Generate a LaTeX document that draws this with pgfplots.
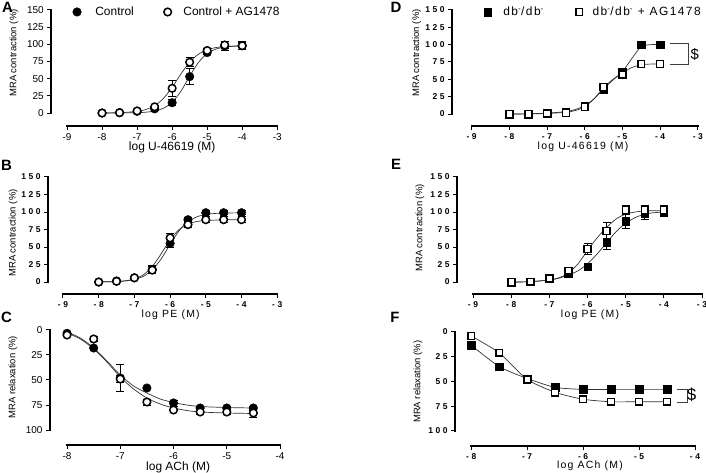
\documentclass[border=0pt]{standalone}
\usepackage{pgfplots}
\pgfplotsset{compat=1.18}
\usepackage{fontspec}
\setmainfont{Liberation Sans}
\newfontfamily\spA[LetterSpace=12]{Liberation Sans}
\newfontfamily\spB[LetterSpace=30]{Liberation Sans Bold}
\pgfplotsset{
  gp/.style={scale only axis, clip=false, anchor=south west,
    axis x line*=bottom, axis y line*=left,
    axis line style={-, line width=1bp, black},
    tick align=outside,
    xtick pos=bottom, ytick pos=left,
    major tick length=4bp, tick style={black, line width=1bp},
    xlabel style={font=\fontsize{12}{14}\selectfont, anchor=center},
    ylabel style={font=\fontsize{9.5}{11}\selectfont, anchor=center},
    tick label style={font=\fontsize{10}{12}\selectfont},
  },
  gpsp/.style={
    xlabel style={font=\spA\fontsize{10.5}{12}\selectfont},
    tick label style={font=\spB\fontsize{8.5}{10}\selectfont},
  },
  ebars/.style={error bars/y dir=both, error bars/y explicit,
    error bars/error bar style={line width=1bp, black},
    error bars/error mark options={rotate=90, mark size=4bp, line width=1bp, black}},
  fc/.style={only marks, mark=*, mark size=4.3bp, black, ebars},
  oc/.style={only marks, mark=*, mark size=3.8bp, mark options={fill=white, draw=black, line width=1.5bp}, ebars},
  fs/.style={only marks, mark=square*, mark size=3.8bp, black, ebars},
  os/.style={only marks, mark=square*, mark size=3.4bp, mark options={fill=white, draw=black, line width=1.5bp}, ebars},
  curve/.style={black!80, line width=0.7bp, smooth, no markers, forget plot},
  axrect/.style={fill=black, draw=none, no markers, forget plot},
}
\begin{document}
\begin{tikzpicture}
\path[use as bounding box] (0bp,0bp) rectangle (706bp,473bp);
% ---------------- A ----------------
\begin{axis}[gp, at={(51.25bp,347bp)}, width=226bp, height=116bp,
  xmin=-9.45, xmax=-3, ymin=-18.9, ymax=150,
  x axis line style={shorten <=15.75bp}, y axis line style={shorten <=13bp},
  xtick={-9,-8,-7,-6,-5,-4,-3}, xticklabels={-9,-8,-7,-6,-5,-4,-3},
  ytick={0,25,50,75,100,125,150}, yticklabels={0,25,50,75,100,125,150},
  xlabel={log U-46619 (M)}, ylabel={MRA contraction (\%)},
  xlabel style={at={(axis description cs:0.535,0)}, yshift=-21bp},
  ylabel style={at={(axis description cs:-0.165,0.629)}},
  legend style={at={(axis description cs:0.081,0.983)}, anchor=west, draw=none, fill=none,
    legend columns=2, font=\fontsize{12}{14}\selectfont},
]
\addplot[axrect] coordinates {(-9.03,-20.2) (-2.97,-20.2) (-2.97,-17.6) (-9.03,-17.6)} -- cycle;
\addplot[axrect] coordinates {(-9.476,-1.3) (-9.424,-1.3) (-9.424,151.3) (-9.476,151.3)} -- cycle;
\addplot[curve] coordinates {(-8,0.01) (-7.5,0.07) (-7,0.47) (-6.75,1.2) (-6.5,2.9) (-6.25,6.9) (-6,15.7) (-5.75,31.7) (-5.5,53.5) (-5.25,73.6) (-5,86.6) (-4.75,93.1) (-4.5,96.0) (-4.25,97.2) (-4,97.7)};
\addplot[curve] coordinates {(-8,0.1) (-7.5,0.48) (-7,2.35) (-6.75,5.1) (-6.5,10.7) (-6.25,21.2) (-6,37.4) (-5.75,56.8) (-5.5,74) (-5.25,85.6) (-5,92) (-4.75,95.3) (-4.5,96.8) (-4.25,97.4) (-4,97.7)};
\addplot[fc] coordinates {(-8,0) +- (0,0) (-7.5,0.5) +- (0,0) (-7,2.5) +- (0,1) (-6.5,6) +- (0,2) (-6,15) +- (0,4) (-5.5,53) +- (0,12) (-5,88) +- (0,3) (-4.5,97.5) +- (0,6) (-4,98) +- (0,6)};
\addlegendentry{\rule{12bp}{0bp}Control\rule{28bp}{0bp}}
\addplot[oc] coordinates {(-8,0) +- (0,0) (-7.5,0.5) +- (0,0) (-7,3) +- (0,1) (-6.5,9) +- (0,2) (-6,36) +- (0,12) (-5.5,74) +- (0,7) (-5,91) +- (0,3) (-4.5,99) +- (0,5) (-4,98) +- (0,5)};
\addlegendentry{\rule{10bp}{0bp}Control + AG1478}
\end{axis}
% ---------------- B ----------------
\begin{axis}[gp, gpsp, at={(48bp,179bp)}, width=229.2bp, height=117bp,
  xmin=-9.42, xmax=-3, ymin=-17.1, ymax=150,
  x axis line style={shorten <=15bp}, y axis line style={shorten <=12bp},
  xtick={-9,-8,-7,-6,-5,-4,-3}, xticklabels={-9,-8,-7,-6,-5,-4,-3},
  ytick={0,25,50,75,100,125,150}, yticklabels={0,25,50,75,100,125,150},
  xlabel={log PE (M)}, ylabel={MRA contraction (\%)},
  xlabel style={at={(axis description cs:0.535,0)}, yshift=-21bp},
  ylabel style={at={(axis description cs:-0.152,0.521)}},
]
\addplot[axrect] coordinates {(-9.025,-18.39) (-2.975,-18.39) (-2.975,-15.81) (-9.025,-15.81)} -- cycle;
\addplot[axrect] coordinates {(-9.445,-1.3) (-9.395,-1.3) (-9.395,151.3) (-9.445,151.3)} -- cycle;
\addplot[curve] coordinates {(-8,0.12) (-7.5,0.66) (-7.25,1.55) (-7,3.6) (-6.75,8.1) (-6.5,17.3) (-6.25,33) (-6,53.8) (-5.75,73.1) (-5.5,86) (-5.25,93.1) (-5,96.4) (-4.75,97.9) (-4.5,98.5) (-4,98.9)};
\addplot[curve] coordinates {(-8,0.12) (-7.5,0.74) (-7.25,1.82) (-7,4.45) (-6.75,10.4) (-6.5,22.1) (-6.25,40.4) (-6,60.2) (-5.75,74.8) (-5.5,82.7) (-5.25,86.4) (-5,87.9) (-4.5,88.8) (-4,89)};
\addplot[fc] coordinates {(-8,0) +- (0,0) (-7.5,1.5) +- (0,0) (-7,6) +- (0,1) (-6.5,18) +- (0,5) (-6,55) +- (0,6) (-5.5,89) +- (0,3) (-5,99) +- (0,3) (-4.5,99) +- (0,3) (-4,99) +- (0,3)};
\addplot[oc] coordinates {(-8,0) +- (0,0) (-7.5,1) +- (0,0) (-7,6) +- (0,1) (-6.5,17) +- (0,5) (-6,63) +- (0,6) (-5.5,82) +- (0,4) (-5,89) +- (0,4) (-4.5,89) +- (0,4) (-4,89) +- (0,4)};
\end{axis}
% ---------------- C ----------------
\begin{axis}[gp, at={(50bp,28bp)}, width=230bp, height=115bp,
  y dir=reverse,
  xmin=-8.32, xmax=-4, ymin=0, ymax=115,
  x axis line style={shorten <=17bp}, y axis line style={shorten >=15bp},
  xtick={-8,-7,-6,-5,-4}, xticklabels={-8,-7,-6,-5,-4},
  ytick={0,25,50,75,100}, yticklabels={0,25,50,75,100},
  xlabel={log ACh (M)}, ylabel={MRA relaxation (\%)},
  xlabel style={at={(axis description cs:0.557,0)}, yshift=-22bp},
  ylabel style={at={(axis description cs:-0.161,0.59)}},
]
\addplot[axrect] coordinates {(-8.017,114.1) (-3.983,114.1) (-3.983,115.9) (-8.017,115.9)} -- cycle;
\addplot[axrect] coordinates {(-8.337,-0.9) (-8.303,-0.9) (-8.303,100.9) (-8.337,100.9)} -- cycle;
\addplot[curve] coordinates {(-8,2) (-7.75,8) (-7.5,18) (-7.25,31) (-7,45) (-6.75,56) (-6.5,63) (-6.25,69) (-6,72.5) (-5.75,75) (-5.5,76.5) (-5,77.5) (-4.5,78)};
\addplot[curve] coordinates {(-8,3) (-7.75,9) (-7.5,19) (-7.25,32) (-7,47) (-6.75,59) (-6.5,68) (-6.25,74) (-6,78) (-5.75,80.5) (-5.5,82) (-5,83) (-4.5,83.5)};
\addplot[fc] coordinates {(-8,3.3) +- (0,0) (-7.5,18) +- (0,0) (-7,48) +- (0,13) (-6.5,58) +- (0,0) (-6,73) +- (0,3) (-5.5,78) +- (0,2) (-5,78) +- (0,2) (-4.5,78) +- (0,2)};
\addplot[oc] coordinates {(-8,5) +- (0,0) (-7.5,9) +- (0,3) (-7,49) +- (0,3) (-6.5,72) +- (0,3) (-6,80) +- (0,0) (-5.5,82) +- (0,2) (-5,82) +- (0,2) (-4.5,83) +- (0,4)};
\end{axis}
% ---------------- D ----------------
\begin{axis}[gp, gpsp, at={(452bp,347bp)}, width=245.8bp, height=116bp,
  xmin=-9.52, xmax=-3, ymin=-17.3, ymax=150,
  x axis line style={shorten <=19.6bp}, y axis line style={shorten <=12bp},
  xtick={-9,-8,-7,-6,-5,-4,-3}, xticklabels={-9,-8,-7,-6,-5,-4,-3},
  ytick={0,25,50,75,100,125,150}, yticklabels={0,25,50,75,100,125,150},
  xlabel={log U-46619 (M)}, ylabel={MRA contraction (\%)},
  xlabel style={at={(axis description cs:0.533,0)}, yshift=-21bp},
  ylabel style={at={(axis description cs:-0.1435,0.629)}},
  legend style={at={(axis description cs:0.116,0.983)}, anchor=west, draw=none, fill=none,
    legend columns=2, font=\spA\fontsize{12}{14}\selectfont},
]
\addplot[axrect] coordinates {(-9.024,-18.6) (-2.976,-18.6) (-2.976,-16.0) (-9.024,-16.0)} -- cycle;
\addplot[axrect] coordinates {(-9.544,-1.3) (-9.496,-1.3) (-9.496,151.3) (-9.544,151.3)} -- cycle;
\addplot[curve] coordinates {(-8,0) (-7.5,0.3) (-7,1.2) (-6.5,3.5) (-6.25,6.5) (-6,12) (-5.75,22) (-5.5,36) (-5.25,49) (-5,61) (-4.75,80) (-4.5,97) (-4.25,100) (-4,100.5)};
\addplot[curve] coordinates {(-8,0) (-7.5,0.2) (-7,0.8) (-6.5,2.5) (-6.25,5) (-6,10.5) (-5.75,22) (-5.5,38) (-5.25,50) (-5,59) (-4.75,67) (-4.5,71) (-4.25,72) (-4,72)};
\addplot[fs] coordinates {(-8,0) +- (0,0) (-7.5,0) +- (0,0) (-7,1) +- (0,0) (-6.5,3.5) +- (0,0) (-6,11.5) +- (0,0) (-5.5,36) +- (0,2) (-5,60) +- (0,2) (-4.5,100) +- (0,2) (-4,100) +- (0,2)};
\addlegendentry{\rule{10bp}{0bp}db\textsuperscript{-}/db\textsuperscript{-}\rule{30bp}{0bp}}
\addplot[os] coordinates {(-8,0) +- (0,0) (-7.5,0) +- (0,0) (-7,1) +- (0,0) (-6.5,1.5) +- (0,0) (-6,10) +- (0,2) (-5.5,39) +- (0,3) (-5,57) +- (0,4) (-4.5,72) +- (0,5) (-4,72) +- (0,5)};
\addlegendentry{\rule{8bp}{0bp}db\textsuperscript{-}/db\textsuperscript{-} + AG1478}
\draw[black!75, line width=0.8bp] (axis cs:-3.74,102) -- (axis cs:-3.26,102) -- (axis cs:-3.26,72) -- (axis cs:-3.74,72);
\node[font=\fontsize{15}{15}\selectfont] at (axis cs:-3.08,86) {\$};
\end{axis}
% ---------------- E ----------------
\begin{axis}[gp, gpsp, at={(457bp,179bp)}, width=245bp, height=117bp,
  xmin=-9.42, xmax=-3, ymin=-17.1, ymax=150,
  x axis line style={shorten <=16bp}, y axis line style={shorten <=12bp},
  xtick={-9,-8,-7,-6,-5,-4,-3}, xticklabels={-9,-8,-7,-6,-5,-4,-3},
  ytick={0,25,50,75,100,125,150}, yticklabels={0,25,50,75,100,125,150},
  xlabel={log PE (M)}, ylabel={MRA contraction (\%)},
  xlabel style={at={(axis description cs:0.543,0)}, yshift=-21bp},
  ylabel style={at={(axis description cs:-0.151,0.564)}},
]
\addplot[axrect] coordinates {(-9.024,-18.39) (-2.976,-18.39) (-2.976,-15.81) (-9.024,-15.81)} -- cycle;
\addplot[axrect] coordinates {(-9.444,-1.3) (-9.396,-1.3) (-9.396,151.3) (-9.444,151.3)} -- cycle;
\addplot[curve] coordinates {(-8,0) (-7.5,0.5) (-7,3) (-6.75,5.5) (-6.5,10) (-6.25,16) (-6,26) (-5.75,40) (-5.5,56) (-5.25,72) (-5,84) (-4.75,92) (-4.5,97) (-4.25,99) (-4,100)};
\addplot[curve] coordinates {(-8,0) (-7.5,0.5) (-7,3) (-6.75,6) (-6.5,13) (-6.25,26) (-6,45) (-5.75,63) (-5.5,78) (-5.25,90) (-5,97) (-4.75,100) (-4.5,101.5) (-4,102)};
\addplot[fs] coordinates {(-8,0) +- (0,0) (-7.5,0.5) +- (0,0) (-7,5) +- (0,1) (-6.5,13) +- (0,2) (-6,22) +- (0,2) (-5.5,57) +- (0,11) (-5,87) +- (0,11) (-4.5,98) +- (0,8) (-4,100) +- (0,6)};
\addplot[os] coordinates {(-8,0) +- (0,0) (-7.5,0.5) +- (0,0) (-7,5) +- (0,1) (-6.5,16) +- (0,3) (-6,47) +- (0,8) (-5.5,73) +- (0,12) (-5,103) +- (0,7) (-4.5,103) +- (0,7) (-4,103) +- (0,7)};
\end{axis}
% ---------------- F ----------------
\begin{axis}[gp, gpsp, at={(455bp,27bp)}, width=240bp, height=114bp,
  y dir=reverse,
  xmin=-8.29, xmax=-4, ymin=0, ymax=115.2,
  x axis line style={shorten <=16.2bp}, y axis line style={shorten >=15bp},
  xtick={-8,-7,-6,-5,-4}, xticklabels={-8,-7,-6,-5,-4},
  ytick={0,25,50,75,100}, yticklabels={0,25,50,75,100},
  xlabel={log ACh (M)}, ylabel={MRA relaxation (\%)},
  xlabel style={at={(axis description cs:0.5625,0)}, yshift=-20bp},
  ylabel style={at={(axis description cs:-0.154,0.564)}},
]
\addplot[axrect] coordinates {(-8.016,114.3) (-3.984,114.3) (-3.984,116.1) (-8.016,116.1)} -- cycle;
\addplot[axrect] coordinates {(-8.306,-0.9) (-8.274,-0.9) (-8.274,100.9) (-8.306,100.9)} -- cycle;
\addplot[curve, tension=0.35] coordinates {(-8,13.4) (-7.5,35) (-7,47) (-6.5,56) (-6,58) (-5.5,58) (-5,58) (-4.5,58)};
\addplot[curve, tension=0.35] coordinates {(-8,4) (-7.5,21) (-7,48) (-6.5,61) (-6,68) (-5.5,70.5) (-5,70.5) (-4.5,70.5)};
\addplot[fs] coordinates {(-8,13.4) +- (0,0) (-7.5,35) +- (0,0) (-7,47) +- (0,0) (-6.5,56) +- (0,0) (-6,58) +- (0,0) (-5.5,58) +- (0,0) (-5,58) +- (0,0) (-4.5,58) +- (0,0)};
\addplot[os] coordinates {(-8,4) +- (0,0) (-7.5,21) +- (0,0) (-7,48) +- (0,2) (-6.5,61) +- (0,3) (-6,68) +- (0,3) (-5.5,70.5) +- (0,0) (-5,70.5) +- (0,0) (-4.5,70.5) +- (0,0)};
\draw[black!75, line width=0.8bp] (axis cs:-4.32,58) -- (axis cs:-4.14,58) -- (axis cs:-4.14,71) -- (axis cs:-4.32,71);
\node[font=\fontsize{17}{17}\selectfont] at (axis cs:-4.06,63) {\$};
\end{axis}
% panel letters
\node[font=\bfseries\fontsize{15}{15}\selectfont] at (7.5bp,465.3bp) {A};
\node[font=\bfseries\fontsize{15}{15}\selectfont] at (6.5bp,308bp) {B};
\node[font=\bfseries\fontsize{15}{15}\selectfont] at (6.5bp,156bp) {C};
\node[font=\bfseries\fontsize{15}{15}\selectfont] at (396bp,466bp) {D};
\node[font=\bfseries\fontsize{15}{15}\selectfont] at (396bp,309bp) {E};
\node[font=\bfseries\fontsize{15}{15}\selectfont] at (395bp,156bp) {F};
\end{tikzpicture}
\end{document}
